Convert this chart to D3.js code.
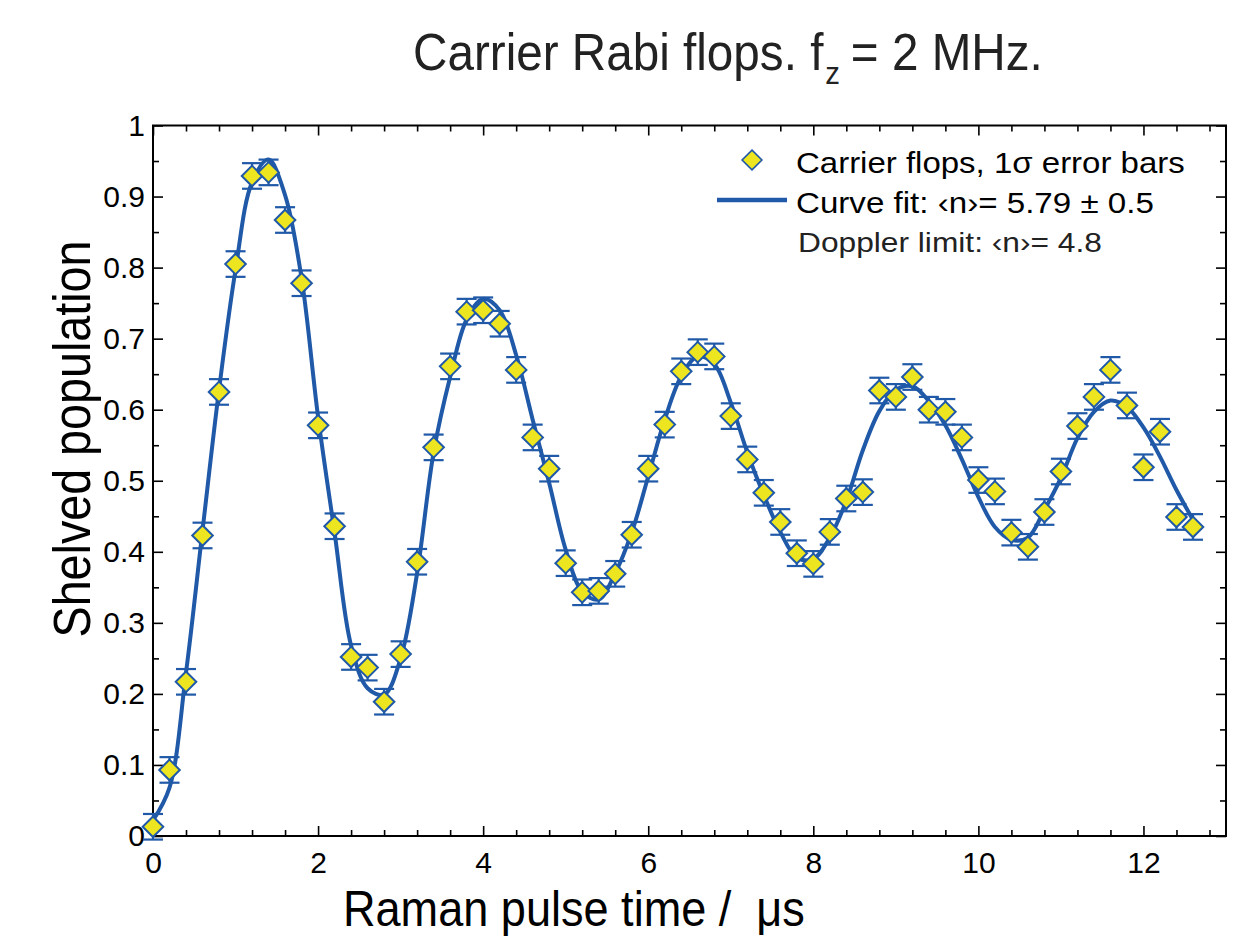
<!DOCTYPE html>
<html>
<head>
<meta charset="utf-8">
<script src="https://cdn.jsdelivr.net/npm/d3@7"></script>
<style>
  body { margin: 0; background: #fff; }
  svg { display: block; font-family: "Liberation Sans", Arial, sans-serif; }
</style>
</head>
<body>
<div id="chart"></div>
<script>
// measured points (pulse time in us, shelved population)
const pulseTimes = [0, 0.2, 0.4, 0.6, 0.8, 1.0, 1.2, 1.4, 1.6, 1.8, 2.0, 2.2, 2.4, 2.6, 2.8, 3.0,
  3.2, 3.4, 3.6, 3.8, 4.0, 4.2, 4.4, 4.6, 4.8, 5.0, 5.2, 5.4, 5.6, 5.8, 6.0, 6.2,
  6.4, 6.6, 6.8, 7.0, 7.2, 7.4, 7.6, 7.8, 8.0, 8.2, 8.4, 8.6, 8.8, 9.0, 9.2, 9.4,
  9.6, 9.8, 10.0, 10.2, 10.4, 10.6, 10.8, 11.0, 11.2, 11.4, 11.6, 11.8, 12.0, 12.2, 12.4, 12.6];
const shelved = [0.013, 0.093, 0.217, 0.423, 0.625, 0.805, 0.929, 0.934, 0.867, 0.778, 0.578, 0.436, 0.252, 0.237, 0.189, 0.256,
  0.386, 0.547, 0.661, 0.738, 0.740, 0.721, 0.656, 0.561, 0.517, 0.384, 0.343, 0.345, 0.369, 0.424, 0.517, 0.579,
  0.654, 0.681, 0.675, 0.591, 0.530, 0.483, 0.442, 0.398, 0.383, 0.428, 0.475, 0.484, 0.627, 0.618, 0.646, 0.600,
  0.597, 0.561, 0.501, 0.485, 0.427, 0.407, 0.456, 0.513, 0.577, 0.618, 0.656, 0.606, 0.519, 0.569, 0.449, 0.435];
const errHalf = 0.018; // 1 sigma, same for every point

// fitted curve
const fitTimes = [0, 0.2, 0.4, 0.6, 0.8, 1.0, 1.2, 1.4, 1.6, 1.8, 2.0, 2.2, 2.4, 2.6, 2.8, 3.0,
  3.2, 3.4, 3.6, 3.8, 4.0, 4.2, 4.4, 4.6, 4.8, 5.0, 5.2, 5.4, 5.6, 5.8, 6.0, 6.2,
  6.4, 6.6, 6.8, 7.0, 7.2, 7.4, 7.6, 7.8, 8.0, 8.2, 8.4, 8.6, 8.8, 9.0, 9.2, 9.4,
  9.6, 9.8, 10.0, 10.2, 10.4, 10.6, 10.8, 11.0, 11.2, 11.4, 11.6, 11.8, 12.0, 12.2, 12.4, 12.6];
const fitValues = [0.022, 0.068, 0.230, 0.430, 0.628, 0.797, 0.920, 0.952, 0.902, 0.785, 0.590, 0.427, 0.268, 0.208, 0.199, 0.250,
  0.370, 0.540, 0.646, 0.727, 0.756, 0.740, 0.677, 0.586, 0.497, 0.403, 0.344, 0.333, 0.370, 0.427, 0.506, 0.586,
  0.647, 0.675, 0.664, 0.610, 0.540, 0.480, 0.428, 0.392, 0.390, 0.420, 0.472, 0.543, 0.598, 0.628, 0.633, 0.612,
  0.578, 0.530, 0.477, 0.435, 0.417, 0.420, 0.459, 0.504, 0.560, 0.597, 0.613, 0.604, 0.575, 0.534, 0.487, 0.445];

const xTicks = [0, 2, 4, 6, 8, 10, 12];
const yTicks = [0, 0.1, 0.2, 0.3, 0.4, 0.5, 0.6, 0.7, 0.8, 0.9, 1];
const legendLabels = ["Carrier flops, 1\u03c3 error bars", "Curve fit: \u2039n\u203a= 5.79 \u00b1 0.5", "Doppler limit: \u2039n\u203a= 4.8"];

const width = 1253, height = 938;
const plotLeft = 153, plotRight = 1226, plotTop = 125.5, plotBottom = 836;
const blue = "#1f59a7", yellow = "#ede51f";

const svg = d3.select("#chart").append("svg")
  .attr("width", width)
  .attr("height", height);

const x = d3.scaleLinear().domain([0, 13]).range([plotLeft, plotRight]);
const y = d3.scaleLinear().domain([0, 1]).range([plotBottom, plotTop]);

// squeeze/stretch a text so it spans the width seen in the picture
function fitText(g, target) {
  const w = g.select("text").node().getBBox().width;
  return target / w;
}

// frame
svg.append("rect")
  .attr("x", plotLeft).attr("y", plotTop)
  .attr("width", plotRight - plotLeft).attr("height", plotBottom - plotTop)
  .attr("fill", "none").attr("stroke", "#000").attr("stroke-width", 2);

const xMinor = d3.range(0, 13.01, 0.4).filter(v => Math.abs(v / 2 - Math.round(v / 2)) > 0.01);
const yMinor = d3.range(0.05, 1, 0.1);

function styleAxis(g) {
  g.select(".domain").remove();
  g.attr("font-size", 30).attr("font-family", "'Liberation Sans', Arial, sans-serif");
  g.selectAll(".tick line").attr("stroke", "#000").attr("stroke-width", 1.6);
  g.selectAll(".tick text").attr("fill", "#000");
}

svg.append("g").attr("transform", `translate(0,${plotBottom})`)
  .call(d3.axisBottom(x).tickValues(xTicks).tickSize(-10).tickPadding(16).tickFormat(d3.format("d")))
  .call(styleAxis);
svg.append("g").attr("transform", `translate(0,${plotBottom})`)
  .call(d3.axisBottom(x).tickValues(xMinor).tickSize(-6).tickFormat(""))
  .call(styleAxis);
svg.append("g").attr("transform", `translate(0,${plotTop})`)
  .call(d3.axisTop(x).tickValues(xTicks).tickSize(-10).tickFormat(""))
  .call(styleAxis);
svg.append("g").attr("transform", `translate(0,${plotTop})`)
  .call(d3.axisTop(x).tickValues(xMinor).tickSize(-6).tickFormat(""))
  .call(styleAxis);

svg.append("g").attr("transform", `translate(${plotLeft},0)`)
  .call(d3.axisLeft(y).tickValues(yTicks).tickSize(-10).tickPadding(8).tickFormat(d => String(d)))
  .call(styleAxis);
svg.append("g").attr("transform", `translate(${plotLeft},0)`)
  .call(d3.axisLeft(y).tickValues(yMinor).tickSize(-6).tickFormat(""))
  .call(styleAxis);
svg.append("g").attr("transform", `translate(${plotRight},0)`)
  .call(d3.axisRight(y).tickValues(yTicks).tickSize(-10).tickFormat(""))
  .call(styleAxis);
svg.append("g").attr("transform", `translate(${plotRight},0)`)
  .call(d3.axisRight(y).tickValues(yMinor).tickSize(-6).tickFormat(""))
  .call(styleAxis);

// fitted curve
const line = d3.line()
  .x((d, i) => x(fitTimes[i]))
  .y(d => y(d))
  .curve(d3.curveCatmullRom.alpha(0.5));

svg.append("path")
  .datum(fitValues)
  .attr("d", line)
  .attr("fill", "none")
  .attr("stroke", blue)
  .attr("stroke-width", 4);

// error bars
const bars = svg.append("g").attr("stroke", blue).attr("stroke-width", 2.2);
shelved.forEach((v, i) => {
  const cx = x(pulseTimes[i]);
  const y0 = y(v - errHalf), y1 = y(v + errHalf);
  bars.append("line").attr("x1", cx).attr("x2", cx).attr("y1", y0).attr("y2", y1);
  bars.append("line").attr("x1", cx - 10).attr("x2", cx + 10).attr("y1", y0).attr("y2", y0);
  bars.append("line").attr("x1", cx - 10).attr("x2", cx + 10).attr("y1", y1).attr("y2", y1);
});

// diamonds
const diamond = d3.symbol().type(d3.symbolDiamond2).size(270);
svg.append("g").selectAll("path")
  .data(shelved)
  .enter()
  .append("path")
  .attr("d", diamond)
  .attr("transform", (d, i) => `translate(${x(pulseTimes[i])},${y(d)})`)
  .attr("fill", yellow)
  .attr("stroke", blue)
  .attr("stroke-width", 2);

// legend
svg.append("path")
  .attr("d", d3.symbol().type(d3.symbolDiamond2).size(250))
  .attr("transform", "translate(752,160)")
  .attr("fill", yellow).attr("stroke", blue).attr("stroke-width", 1.6);
svg.append("line")
  .attr("x1", 717).attr("x2", 787).attr("y1", 200).attr("y2", 200)
  .attr("stroke", blue).attr("stroke-width", 4.5);

const legendRows = [
  {x: 796, y: 173, size: 30, w: 389, color: "#000"},
  {x: 796, y: 213, size: 30, w: 358, color: "#000"},
  {x: 798, y: 252, size: 27, w: 304, color: "#222"}
];
legendRows.forEach((r, i) => {
  const g = svg.append("g");
  g.append("text").text(legendLabels[i])
    .attr("font-size", r.size).attr("fill", r.color);
  const s = fitText(g, r.w);
  g.attr("transform", `translate(${r.x},${r.y}) scale(${s},1)`);
});

// title
const titleG = svg.append("g");
const title = titleG.append("text").attr("font-size", 52).attr("fill", "#222");
title.append("tspan").text("Carrier Rabi flops. f");
title.append("tspan").attr("font-size", 32).attr("dy", 14).attr("dx", 2).text("z");
title.append("tspan").attr("dy", -14).attr("dx", 12).text("= 2 MHz.");
titleG.attr("transform", `translate(413,70) scale(${fitText(titleG, 630)},1)`);

// axis titles
const yTitle = svg.append("g");
yTitle.append("text").text("Shelved population")
  .attr("font-size", 51).attr("fill", "#000").attr("text-anchor", "middle");
yTitle.attr("transform", `translate(90,439) rotate(-90) scale(${fitText(yTitle, 397)},1)`);

const xTitle = svg.append("g");
xTitle.append("text").text("Raman pulse time /  \u03bcs")
  .attr("font-size", 50).attr("fill", "#000").style("white-space", "pre");
xTitle.attr("transform", `translate(343,926) scale(${fitText(xTitle, 462)},1)`);
</script>
</body>
</html>
